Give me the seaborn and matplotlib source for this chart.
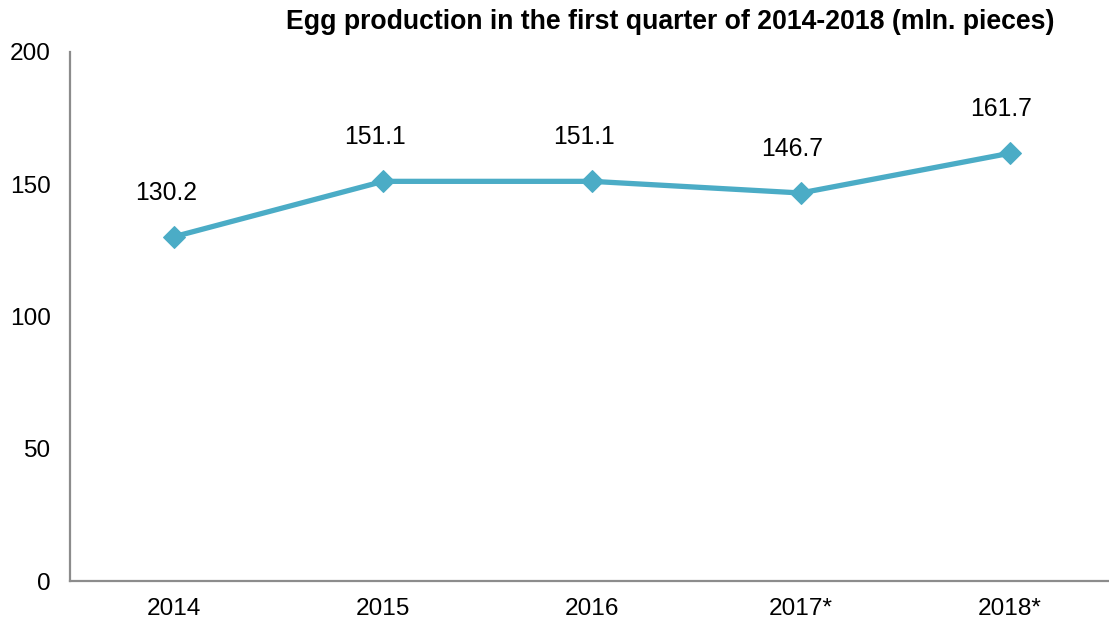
import matplotlib
matplotlib.use("Agg")
import matplotlib.pyplot as plt
import seaborn as sns
import pandas as pd

years = ["2014", "2015", "2016", "2017*", "2018*"]
values = [130.2, 151.1, 151.1, 146.7, 161.7]
title = "Egg production in the first quarter of 2014-2018 (mln. pieces)"

sns.set_style("white")
plt.rcParams["font.family"] = ["Liberation Sans", "DejaVu Sans"]
plt.rcParams["text.color"] = "#000000"

df = pd.DataFrame({"year": years, "value": values})

fig = plt.figure(figsize=(11.09, 6.24), dpi=100)
ax = fig.add_axes([70 / 1109, 43 / 624, 1044 / 1109, 529 / 624])

color = "#4BACC6"
sns.lineplot(data=df, x="year", y="value", ax=ax, color=color, linewidth=3.8,
             marker="D", markersize=11, markeredgecolor=color, sort=False)

ax.set_xlim(-0.5, len(years) - 0.5)
ax.set_ylim(0, 200)
ax.set_yticks([0, 50, 100, 150, 200])
ax.set_xlabel("")
ax.set_ylabel("")
ax.tick_params(axis="both", length=0, labelsize=17.6, colors="#000000", pad=14)
ax.tick_params(axis="x", pad=12)

for s in ["top", "right"]:
    ax.spines[s].set_visible(False)
for s in ["left", "bottom"]:
    ax.spines[s].set_color("#8c8c8c")
    ax.spines[s].set_linewidth(1.6)

for i, v in enumerate(values):
    ax.annotate(f"{v:.1f}", (i, v), xytext=(-6, 23), textcoords="offset points",
                ha="center", va="bottom", fontsize=17.8, color="#000000")

fig.text(670 / 1109, 1 - 22 / 624, title, ha="center", va="center",
         fontsize=19.2, fontweight="bold", color="#000000")

fig.savefig("out.png", dpi=100)
